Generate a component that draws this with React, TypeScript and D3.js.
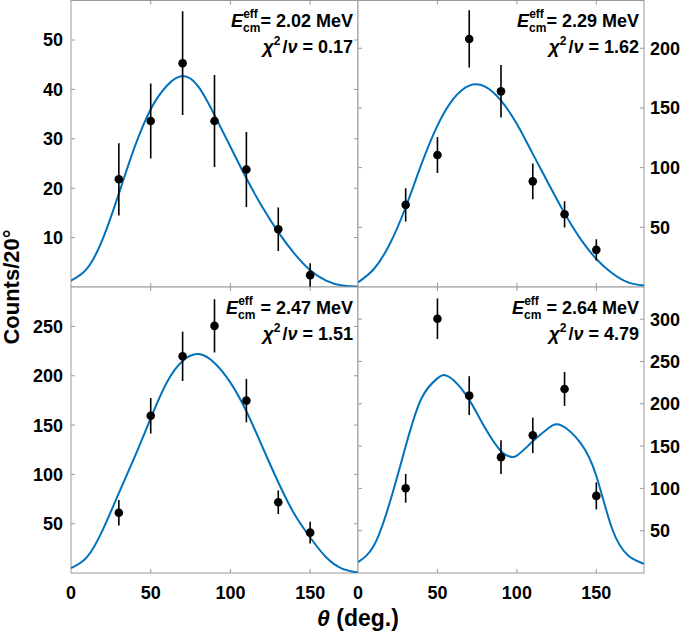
import React from 'react';
import * as d3 from 'd3';

// ---- data ----
const angles = [30, 50, 70, 90, 110, 130, 150];

const counts202 = [21.8, 33.6, 45.3, 33.6, 23.8, 11.7, 2.4];
const errors202 = [7.3, 7.6, 10.5, 9.3, 7.6, 4.4, 2.4];
const counts229 = [68.8, 110.6, 207.8, 163.9, 88.5, 60.9, 31.1];
const errors229 = [14, 15, 24, 22, 15, 11, 9];
const counts247 = [61.1, 159.4, 219.7, 250.6, 174.8, 71.8, 40.9];
const errors247 = [13, 18, 25, 27, 22, 12, 11];
const counts264 = [100.1, 300.5, 209.6, 136.9, 162.7, 217.5, 91.1];
const errors264 = [17, 24, 23, 20, 21, 20, 16];

const fitAngles = [0, 10, 20, 30, 40, 50, 60, 70, 80, 90, 100, 110, 120, 130, 140, 150, 160, 170, 180];
const fit202 = [1.3, 3.7, 9.8, 18.9, 28.4, 36.0, 40.7, 42.7, 40.5, 34.8, 28.4, 22.0, 16.2, 11.1, 6.8, 3.4, 1.3, 0.3, 0.1];
const fit229 = [3.9, 15.1, 36, 66.8, 103.1, 135.2, 157.5, 168.7, 167.8, 156.1, 136.6, 111.5, 86.3, 61.7, 40.3, 23.5, 11.5, 3.9, 1.2];
const fit247 = [5, 16, 44, 81, 118, 157, 193, 215, 222, 213, 193, 164, 128, 92, 60, 36, 16, 4.5, 0.5];
const fitAngles264 = [0, 10, 20, 30, 40, 50, 54, 60, 70, 80, 90, 95, 100, 110, 120, 128, 140, 150, 160, 170, 180];
const fit264 = [12.9, 32.4, 83.3, 149.8, 206.6, 230, 234, 228, 204.6, 171.4, 143.9, 138, 138.8, 155.6, 171.4, 174.4, 153.7, 114.6, 52, 20.7, 10.9];

const xTicks = [0, 50, 100, 150];
const yTicks202 = [10, 20, 30, 40, 50];
const yTicks229 = [50, 100, 150, 200];
const yTicks247 = [50, 100, 150, 200, 250];
const yTicks264 = [50, 100, 150, 200, 250, 300];
const yMax = [58, 240, 290, 338];

const energies = ['2.02', '2.29', '2.47', '2.64'];
const chiValues = ['0.17', '1.62', '1.51', '4.79'];

// ---- layout ----
const W = 685;
const H = 634;
const colX = [[71, 358], [358, 644]];
const rowY = [[0.5, 287], [287, 573]];
const FONT = '"Liberation Sans", Arial, Helvetica, sans-serif';
const BLUE = '#0072BD';
const BOX = '#9a9a9a';

const panelData = [
  { counts: counts202, errors: errors202, fa: fitAngles, fit: fit202, yTicks: yTicks202 },
  { counts: counts229, errors: errors229, fa: fitAngles, fit: fit229, yTicks: yTicks229 },
  { counts: counts247, errors: errors247, fa: fitAngles, fit: fit247, yTicks: yTicks247 },
  { counts: counts264, errors: errors264, fa: fitAngles264, fit: fit264, yTicks: yTicks264 },
];

function Panel({ i }: { i: number }) {
  const col = i % 2;
  const row = Math.floor(i / 2);
  const [x0, x1] = colX[col];
  const [y0, y1] = rowY[row];
  const d = panelData[i];
  const x = d3.scaleLinear().domain([0, 180]).range([x0, x1]);
  const y = d3.scaleLinear().domain([0, yMax[i]]).range([y1, y0]);
  const pts = d.fa.map((a, k) => [a, d.fit[k]] as [number, number]);
  const line = d3
    .line<[number, number]>()
    .x((p) => x(p[0]))
    .y((p) => y(p[1]))
    .curve(d3.curveNatural);
  const clipId = `clip${i}`;
  const tl = 4;
  const xR = x1 - 5;
  const rest = row === 0 ? '= ' + energies[i] + ' MeV' : ' = ' + energies[i] + ' MeV';
  const cmW = 17.3;
  const effW = 14.7;
  return (
    <g>
      <defs>
        <clipPath id={clipId}>
          <rect x={x0} y={y0} width={x1 - x0} height={y1 - y0} />
        </clipPath>
      </defs>
      <rect x={x0} y={y0} width={x1 - x0} height={y1 - y0} fill="white" stroke={BOX} strokeWidth={1} />
      {xTicks.filter((t) => t > 0).map((t) => (
        <g key={'xt' + t} stroke={BOX} strokeWidth={1}>
          <line x1={x(t)} x2={x(t)} y1={y1} y2={y1 - tl} />
          <line x1={x(t)} x2={x(t)} y1={y0} y2={y0 + tl} />
        </g>
      ))}
      {d.yTicks.map((t) => (
        <g key={'yt' + t} stroke={BOX} strokeWidth={1}>
          <line x1={x0} x2={x0 + tl} y1={y(t)} y2={y(t)} />
          <line x1={x1} x2={x1 - tl} y1={y(t)} y2={y(t)} />
        </g>
      ))}
      {d.yTicks.map((t) => (
        <text
          key={'yl' + t}
          x={col === 0 ? 63 : 650}
          y={y(t)}
          dy="0.36em"
          textAnchor={col === 0 ? 'end' : 'start'}
          fontSize={18}
          fontWeight="bold"
          fontFamily={FONT}
        >
          {t}
        </text>
      ))}
      {row === 1 &&
        xTicks.map((t) => (
          <text key={'xl' + t} x={x(t)} y={599} textAnchor="middle" fontSize={18} fontWeight="bold" fontFamily={FONT}>
            {t}
          </text>
        ))}
      <g clipPath={`url(#${clipId})`}>
        <path d={line(pts) || ''} fill="none" stroke={BLUE} strokeWidth={2} />
        {angles.map((a, k) => (
          <line
            key={'e' + a}
            x1={x(a)}
            x2={x(a)}
            y1={y(d.counts[k] + d.errors[k])}
            y2={y(Math.max(0, d.counts[k] - d.errors[k]))}
            stroke="black"
            strokeWidth={1.6}
          />
        ))}
        {angles.map((a, k) => (
          <circle key={'c' + a} cx={x(a)} cy={y(d.counts[k])} r={4.3} fill="black" />
        ))}
      </g>
      <text x={xR} y={y0 + 26.5} textAnchor="end" fontSize={18} fontWeight="bold" fontFamily={FONT}>
        <tspan fontStyle="italic">E</tspan>
        <tspan fontSize={12} dy={5}>cm</tspan>
        <tspan fontSize={12} dx={-cmW} dy={-14}>eff</tspan>
        <tspan dx={cmW - effW} dy={9}>{rest}</tspan>
      </text>
      <text x={xR} y={y0 + 52.5} textAnchor="end" fontSize={18} fontWeight="bold" fontFamily={FONT}>
        <tspan fontStyle="italic" fontSize={19}>χ</tspan>
        <tspan fontSize={12} dy={-8}>2</tspan>
        <tspan dy={8} dx={2}>/</tspan>
        <tspan fontStyle="italic">ν</tspan>
        <tspan>{' = ' + chiValues[i]}</tspan>
      </text>
    </g>
  );
}

export default function App() {
  return (
    <svg
      width={W}
      height={H}
      viewBox={`0 0 ${W} ${H}`}
      style={{ position: 'absolute', left: 0, top: 0, background: 'white' }}
    >
      <rect x={0} y={0} width={W} height={H} fill="white" />
      {[0, 1, 2, 3].map((i) => (
        <Panel key={i} i={i} />
      ))}
      <text
        transform="translate(19,287) rotate(-90)"
        textAnchor="middle"
        fontSize={22}
        fontWeight="bold"
        fontFamily={FONT}
      >
        Counts/20°
      </text>
      <text x={358} y={626} textAnchor="middle" fontSize={23} fontWeight="bold" fontFamily={FONT}>
        <tspan fontStyle="italic">θ</tspan> (deg.)
      </text>
    </svg>
  );
}
